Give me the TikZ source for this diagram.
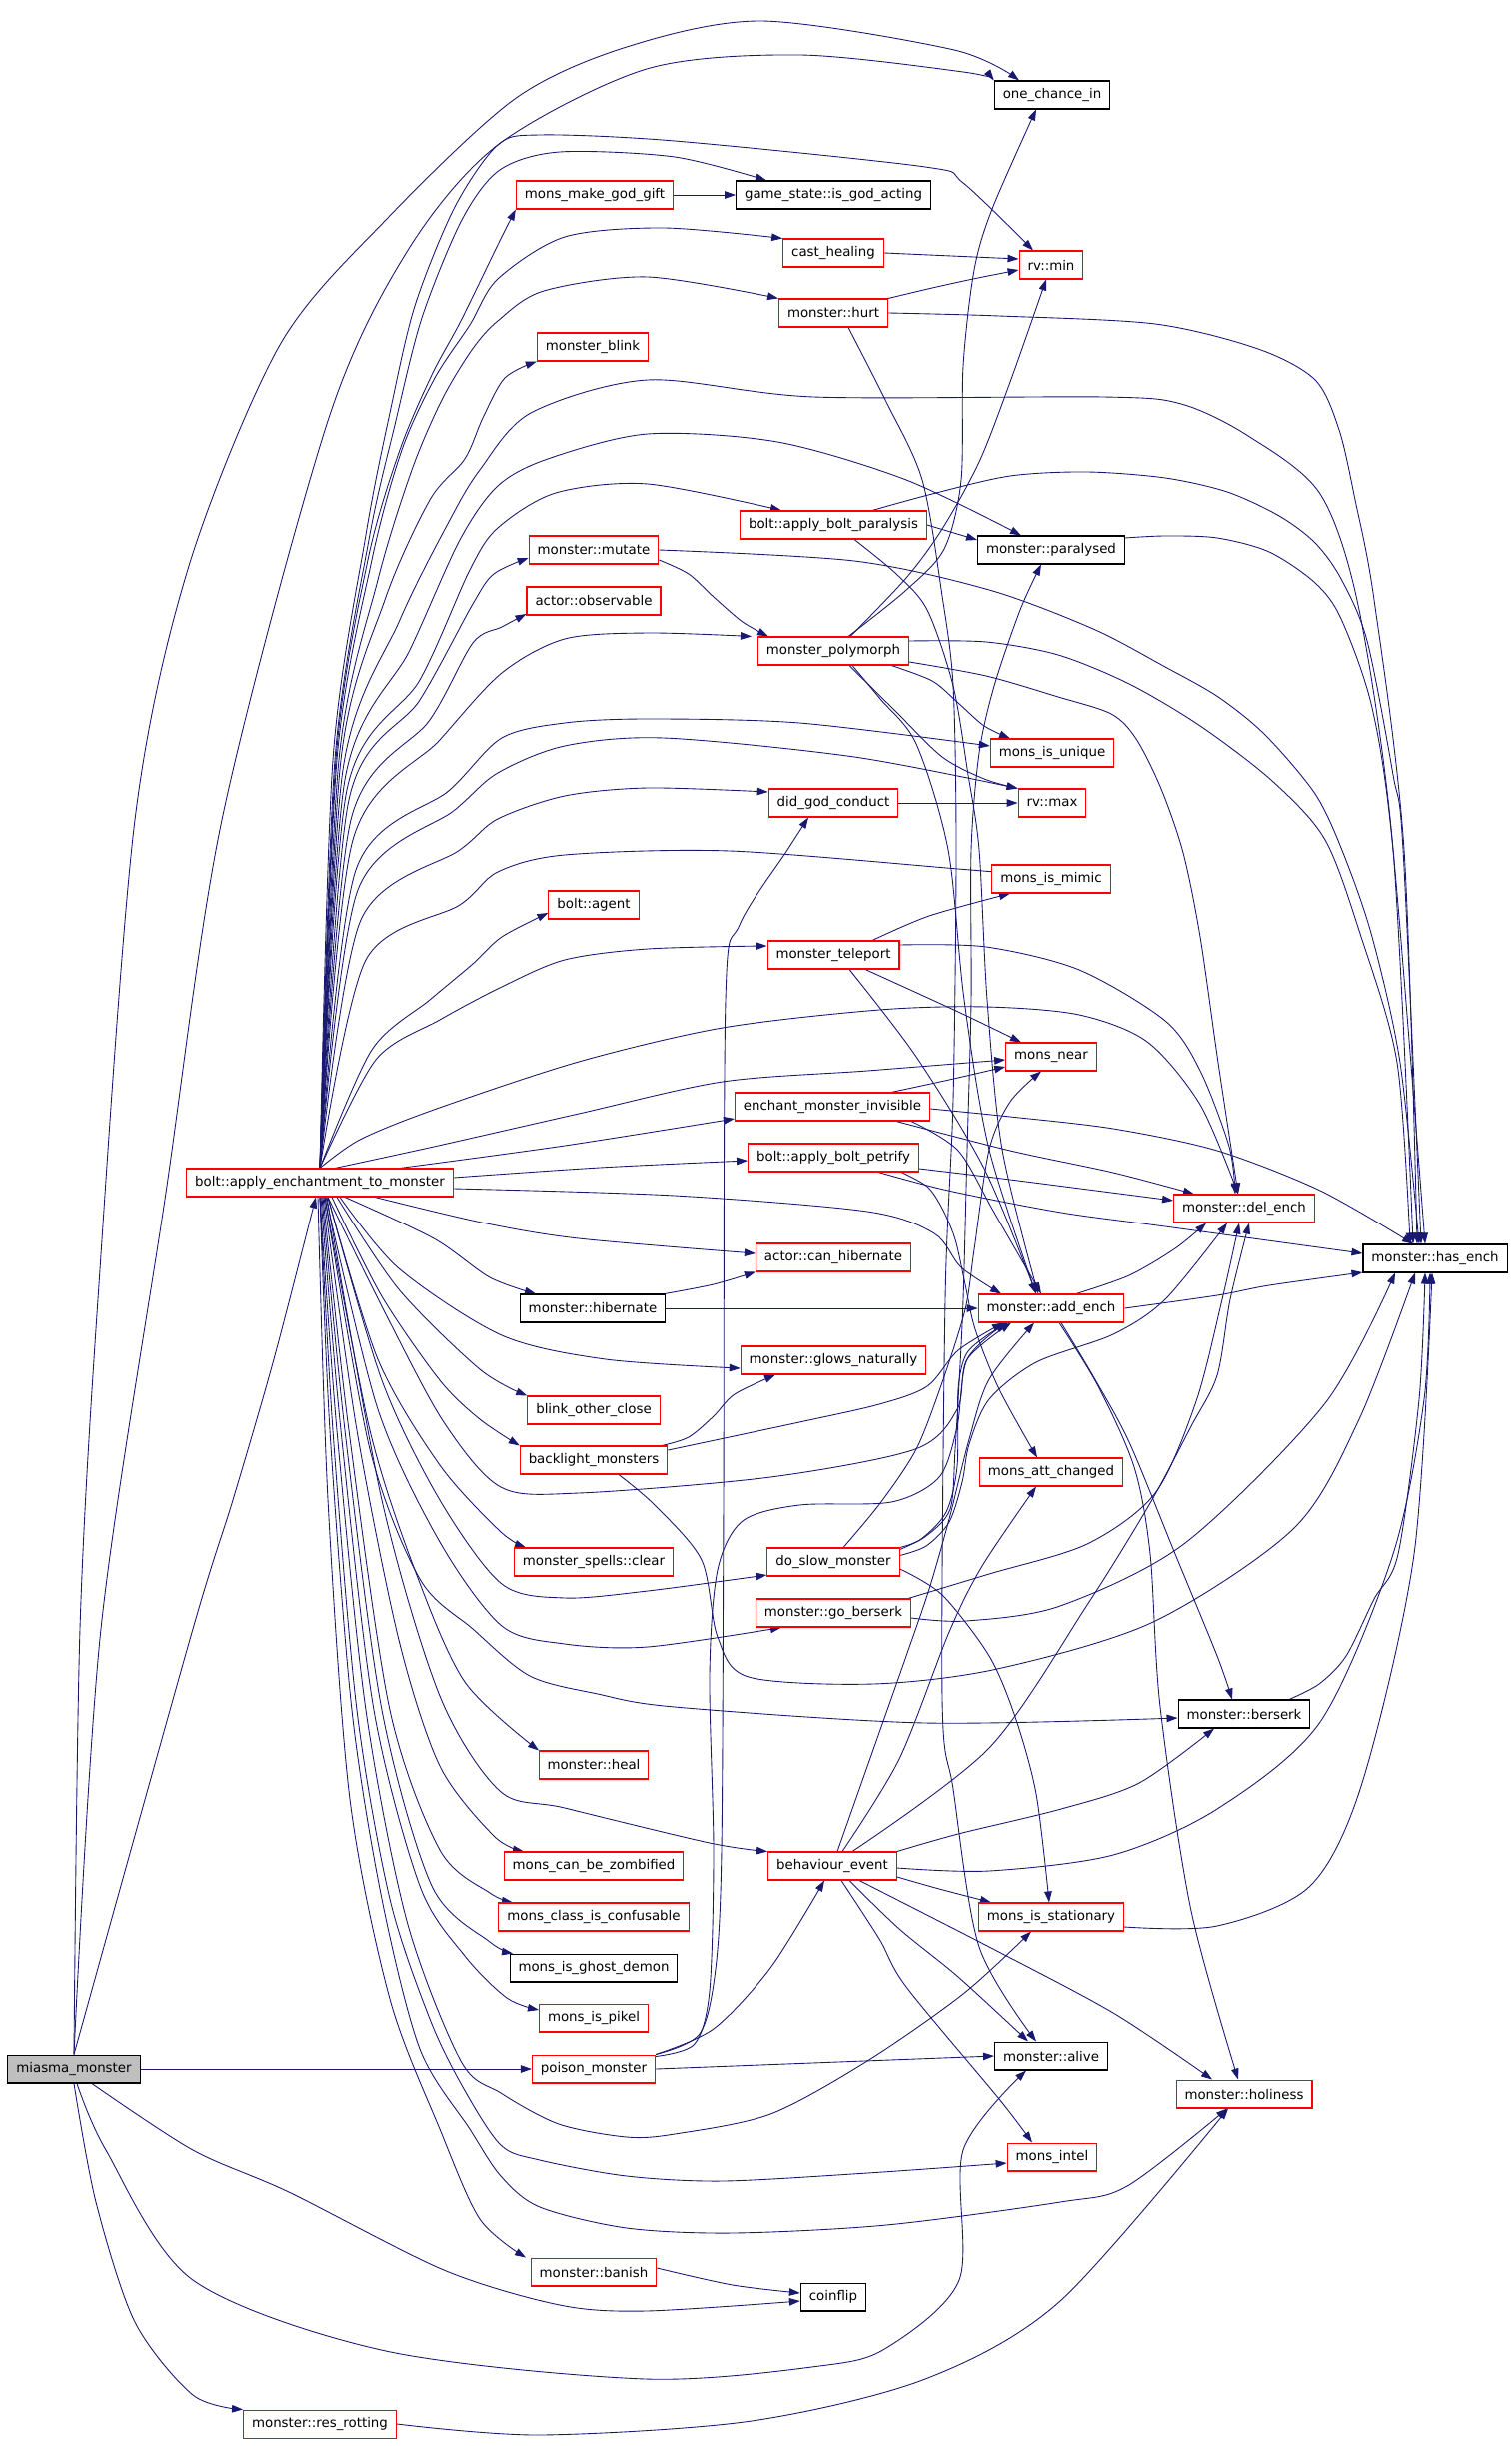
\documentclass[tikz,border=0pt]{standalone}
\usepackage{fontspec}
\setmainfont{DejaVu Sans}
\usetikzlibrary{arrows.meta}
\definecolor{edgeblue}{HTML}{191970}
\definecolor{startgray}{HTML}{BFBFBF}
\pgfdeclarelayer{background}
\pgfsetlayers{background,main}
\begin{document}
\begin{tikzpicture}[x=0.02cm, y=-0.02cm]
\tikzstyle{block} = [rectangle, draw=black, fill=white, line width=0.6pt, minimum height=0.56cm, inner xsep=0.17cm, inner ysep=0pt, font=\fontsize{7.6}{9}\selectfont]
\tikzstyle{redBlock} = [block, draw=red]
\tikzstyle{startBlock} = [block, fill=startgray]
\tikzstyle{callEdge} = [draw=edgeblue, line width=0.5pt, -{Triangle[length=0.22cm,width=0.15cm]}]
\useasboundingbox (0,0) rectangle (1512,2447);
\node (oneChance) at (1053,95) [block] {one\_chance\_in};
\node (makeGodGift) at (595,195) [redBlock] {mons\_make\_god\_gift};
\node (godActing) at (834,195) [block] {game\_state::is\_god\_acting};
\node (castHealing) at (834,253) [redBlock] {cast\_healing};
\node (rvMin) at (1052,265) [redBlock] {rv::min};
\node (hurt) at (834,313) [redBlock] {monster::hurt};
\node (blink) at (593,347) [redBlock] {monster\_blink};
\node (boltParalysis) at (834,525) [redBlock] {bolt::apply\_bolt\_paralysis};
\node (paralysed) at (1052,550) [block] {monster::paralysed};
\node (mutate) at (594,550) [redBlock] {monster::mutate};
\node (observable) at (594,601) [redBlock] {actor::observable};
\node (polymorph) at (834,651) [redBlock] {monster\_polymorph};
\node (isUnique) at (1053,753) [redBlock] {mons\_is\_unique};
\node (rvMax) at (1053,803) [redBlock] {rv::max};
\node (godConduct) at (834,803) [redBlock] {did\_god\_conduct};
\node (isMimic) at (1052,879) [redBlock] {mons\_is\_mimic};
\node (agent) at (594,905) [redBlock] {bolt::agent};
\node (teleport) at (834,955) [redBlock] {monster\_teleport};
\node (monsNear) at (1052,1057) [redBlock] {mons\_near};
\node (invisible) at (833,1107) [redBlock] {enchant\_monster\_invisible};
\node (boltPetrify) at (834,1158) [redBlock] {bolt::apply\_bolt\_petrify};
\node (applyEnch) at (320,1183) [redBlock] {bolt::apply\_enchantment\_to\_monster};
\node (delEnch) at (1245,1209) [redBlock] {monster::del\_ench};
\node (hasEnch) at (1436,1259) [block] {monster::has\_ench};
\node (canHibernate) at (834,1258) [redBlock] {actor::can\_hibernate};
\node (hibernate) at (593,1309) [block] {monster::hibernate};
\node (addEnch) at (1052,1309) [redBlock] {monster::add\_ench};
\node (glows) at (834,1361) [redBlock] {monster::glows\_naturally};
\node (blinkClose) at (594,1411) [redBlock] {blink\_other\_close};
\node (backlight) at (594,1461) [redBlock] {backlight\_monsters};
\node (attChanged) at (1052,1473) [redBlock] {mons\_att\_changed};
\node (spellsClear) at (594,1563) [redBlock] {monster\_spells::clear};
\node (slowMonster) at (834,1563) [redBlock] {do\_slow\_monster};
\node (goBerserk) at (834,1614) [redBlock] {monster::go\_berserk};
\node (berserk) at (1245,1715) [block] {monster::berserk};
\node (heal) at (594,1766) [redBlock] {monster::heal};
\node (behaviour) at (833,1867) [redBlock] {behaviour\_event};
\node (zombified) at (594,1867) [redBlock] {mons\_can\_be\_zombified};
\node (confusable) at (594,1918) [redBlock] {mons\_class\_is\_confusable};
\node (stationary) at (1052,1918) [redBlock] {mons\_is\_stationary};
\node (ghostDemon) at (594,1969) [block] {mons\_is\_ghost\_demon};
\node (pikel) at (594,2019) [redBlock] {mons\_is\_pikel};
\node (poison) at (594,2070) [redBlock] {poison\_monster};
\node (alive) at (1052,2057) [block] {monster::alive};
\node (holiness) at (1245,2095) [redBlock] {monster::holiness};
\node (intel) at (1053,2158) [redBlock] {mons\_intel};
\node (banish) at (594,2273) [redBlock] {monster::banish};
\node (coinflip) at (834,2298) [block] {coinflip};
\node (resRotting) at (320,2425) [redBlock] {monster::res\_rotting};
\node (miasma) at (74,2070) [startBlock] {miasma\_monster};
\begin{pgfonlayer}{background}
\fill[white] (0,0) rectangle (1512,2447);
\draw[callEdge] plot[smooth] coordinates {(miasma.north) (80,1630) (98,1300) (135,820) (189,566) (280,345) (386,220) (515,99) (627,47) (762,21) (955,50) ([xshift=-0.66cm]oneChance.north)};
\draw[callEdge] plot[smooth] coordinates {(miasma.north) (101,1630) (165,1200) (222,820) (328,421) (407,252) (498,145) (647,69) (800,55) (964,72) (oneChance.north west)};
\draw[callEdge] plot[smooth] coordinates {(miasma.north) (193,1630) (233,1501) (274,1360) ([xshift=-0.08cm]applyEnch.south)};
\draw[callEdge] (miasma.east) -- (poison.west);
\draw[callEdge] plot[smooth] coordinates {([xshift=0.36cm]miasma.south) (193,2151) (289,2193) (444,2271) (560,2306) (646,2312) ([yshift=-0.08cm]coinflip.west)};
\draw[callEdge] plot[smooth] coordinates {([xshift=0.06cm]miasma.south) (106,2151) (193,2281) (386,2352) (646,2380) (820,2367) (887,2349) (960,2281) (964,2151) ([xshift=-0.5cm]alive.south)};
\draw[callEdge] plot[smooth] coordinates {(miasma.south) (96,2203) (135,2323) (193,2396) (resRotting.north west)};
\draw[callEdge] plot[smooth] coordinates {(resRotting.east) (540,2436) (752,2422) (926,2380) (1061,2302) ([xshift=-0.32cm]holiness.south)};
\draw[callEdge] (poison.east) -- (alive.west);
\draw[callEdge] plot[smooth] coordinates {(poison.north east) (714,2030) (771,1969) ([xshift=-0.16cm]behaviour.south)};
\draw[callEdge] plot[smooth] coordinates {(poison.north east) (700,2035) (716,1970) (722,1850) (724,1500) (726,1000) (740,925) (788,850) ([xshift=-0.5cm]godConduct.south)};
\draw[callEdge] plot[smooth] coordinates {([yshift=-0.04cm]poison.north east) (695,2045) (710,1992) (714,1852) (710,1676) (718,1571) (743,1522) (800,1506) (892,1503) (940,1478) (958,1427) (968,1360) ([xshift=-0.9cm]addEnch.south)};
\draw[callEdge] plot[smooth] coordinates {(applyEnch.north) (333,760) (366,535) (390,413) (415,306) (455,207) (498,145) (540,135) (675,141) (926,167) (964,183) ([xshift=-0.36cm]rvMin.north)};
\draw[callEdge] plot[smooth] coordinates {(applyEnch.north) (335,760) (369,540) (395,425) (422,318) (462,220) (500,170) (560,152) (675,157) ([xshift=-1.34cm]godActing.north)};
\draw[callEdge] plot[smooth] coordinates {(applyEnch.north) (337,760) (372,560) (402,450) (435,378) (470,325) (498,279) (565,237) (664,228) (castHealing.north west)};
\draw[callEdge] plot[smooth] coordinates {(applyEnch.north) (339,760) (378,580) (412,470) (442,400) (472,350) (498,321) (544,291) (648,277) (hurt.north west)};
\draw[callEdge] plot[smooth] coordinates {(applyEnch.north) (336,760) (368,560) (400,450) (432,375) (461,321) (498,245) (makeGodGift.south west)};
\draw[callEdge] plot[smooth] coordinates {(applyEnch.north) (341,760) (385,600) (430,500) (465,459) (483,418) (505,378) (blink.south west)};
\draw[callEdge] plot[smooth] coordinates {(applyEnch.north) (343,770) (400,620) (450,520) (480,470) (531,413) (648,380) (814,397) (1104,397) (1182,404) (1249,436) (1321,494) (1360,610) (1394,850) ([xshift=-0.44cm]hasEnch.north)};
\draw[callEdge] plot[smooth] coordinates {(applyEnch.north) (345,780) (410,650) (460,540) (498,486) (548,459) (648,434) (778,442) (907,480) ([xshift=-0.6cm]paralysed.north)};
\draw[callEdge] plot[smooth] coordinates {(applyEnch.north) (347,790) (420,680) (470,570) (498,528) (556,493) (648,484) ([xshift=-1.04cm]boltParalysis.north)};
\draw[callEdge] plot[smooth] coordinates {(applyEnch.north) (349,800) (420,700) (473,604) (494,574) ([yshift=-0.16cm]mutate.west)};
\draw[callEdge] plot[smooth] coordinates {(applyEnch.north) (351,820) (430,720) (473,643) (502,627) ([yshift=-0.26cm]observable.west)};
\draw[callEdge] plot[smooth] coordinates {(applyEnch.north) (353,840) (440,740) (502,673) (565,639) (648,633) ([xshift=-1.64cm]polymorph.north)};
\draw[callEdge] plot[smooth] coordinates {(applyEnch.north) (356,870) (450,790) (502,738) (565,723) (648,719) (800,723) ([yshift=0.14cm]isUnique.west)};
\draw[callEdge] plot[smooth] coordinates {(applyEnch.north) (358,890) (455,810) (498,773) (565,746) (664,738) (855,757) (rvMax.north west)};
\draw[callEdge] plot[smooth] coordinates {(applyEnch.north) (361,920) (460,850) (498,819) (565,796) (648,788) ([yshift=0.22cm]godConduct.west)};
\draw[callEdge] plot[smooth] coordinates {(applyEnch.north) (366,960) (460,905) (498,872) (565,855) (730,851) (959,869) ([yshift=0.14cm]isMimic.west)};
\draw[callEdge] plot[smooth] coordinates {(applyEnch.north) (372,1050) (430,1000) (473,964) (502,937) ([yshift=-0.16cm]agent.west)};
\draw[callEdge] plot[smooth] coordinates {(applyEnch.north) (376,1060) (440,1020) (502,987) (565,960) (648,949) ([yshift=0.18cm]teleport.west)};
\draw[callEdge] plot[smooth] coordinates {(applyEnch.north) (360,1140) (434,1110) (579,1062) (723,1028) (880,1010) (987,1007) (1080,1015) (1148,1042) (1201,1105) ([xshift=-0.12cm]delEnch.north)};
\draw[callEdge] plot[smooth] coordinates {([xshift=0.3cm]applyEnch.north) (434,1147) (579,1114) (723,1082) (868,1071) ([yshift=-0.06cm]monsNear.west)};
\draw[callEdge] plot[smooth] coordinates {([xshift=1.6cm]applyEnch.north) (565,1146) ([yshift=-0.24cm]invisible.west)};
\draw[callEdge] plot[smooth] coordinates {([yshift=0.1cm]applyEnch.east) (600,1168) ([yshift=-0.06cm]boltPetrify.west)};
\draw[callEdge] plot[smooth] coordinates {([yshift=-0.12cm]applyEnch.east) (675,1196) (868,1212) (935,1234) (962,1268) ([xshift=-1.0cm]addEnch.north)};
\draw[callEdge] plot[smooth] coordinates {([xshift=1.1cm]applyEnch.south) (482,1223) (579,1239) ([yshift=0.08cm]canHibernate.west)};
\draw[callEdge] plot[smooth] coordinates {([xshift=0.5cm]applyEnch.south) (434,1239) (490,1278) ([xshift=-1.14cm]hibernate.north)};
\draw[callEdge] plot[smooth] coordinates {([xshift=0.4cm]applyEnch.south) (399,1269) (502,1336) (606,1360) ([yshift=-0.16cm]glows.west)};
\draw[callEdge] plot[smooth] coordinates {([xshift=0.34cm]applyEnch.south) (399,1290) (480,1370) (blinkClose.north west)};
\draw[callEdge] plot[smooth] coordinates {([xshift=0.24cm]applyEnch.south) (382,1297) (440,1381) (480,1420) (backlight.north west)};
\draw[callEdge] plot[smooth] coordinates {([xshift=0.16cm]applyEnch.south) (386,1315) (444,1423) (501,1488) (579,1494) (771,1478) (916,1450) (958,1410) (968,1360) ([xshift=-0.8cm]addEnch.south)};
\draw[callEdge] plot[smooth] coordinates {([xshift=0.16cm]applyEnch.south) (378,1360) (440,1466) (500,1532) ([xshift=-1.36cm]spellsClear.north)};
\draw[callEdge] plot[smooth] coordinates {([xshift=0.16cm]applyEnch.south) (382,1381) (440,1501) (502,1585) (565,1599) (648,1592) ([yshift=-0.26cm]slowMonster.west)};
\draw[callEdge] plot[smooth] coordinates {([xshift=0.12cm]applyEnch.south) (378,1410) (440,1543) (502,1627) (565,1645) (648,1648) ([xshift=-1.04cm]goBerserk.south)};
\draw[callEdge] plot[smooth] coordinates {([xshift=0.1cm]applyEnch.south) (370,1450) (420,1580) (473,1630) (530,1677) (598,1695) (675,1708) (926,1724) ([yshift=-0.08cm]berserk.west)};
\draw[callEdge] plot[smooth] coordinates {([xshift=0.1cm]applyEnch.south) (370,1431) (415,1571) (465,1683) ([xshift=-1.1cm]heal.north)};
\draw[callEdge] plot[smooth] coordinates {([xshift=0.14cm]applyEnch.south) (382,1501) (440,1697) (500,1792) (565,1809) (710,1844) (behaviour.north west)};
\draw[callEdge] plot[smooth] coordinates {([xshift=0.08cm]applyEnch.south) (357,1431) (399,1641) (440,1767) (494,1837) ([xshift=-1.4cm]zombified.north)};
\draw[callEdge] plot[smooth] coordinates {([xshift=0.06cm]applyEnch.south) (349,1431) (390,1711) (440,1851) (490,1894) ([xshift=-1.62cm]confusable.north)};
\draw[callEdge] plot[smooth] coordinates {([xshift=0.04cm]applyEnch.south) (345,1431) (382,1711) (432,1887) (490,1943) ([xshift=-1.62cm]ghostDemon.north)};
\draw[callEdge] plot[smooth] coordinates {([xshift=0.02cm]applyEnch.south) (341,1431) (374,1711) (420,1887) (465,1957) (507,1999) ([yshift=0.16cm]pikel.west)};
\draw[callEdge] plot[smooth] coordinates {(applyEnch.south) (337,1431) (366,1711) (407,1922) (461,2062) (501,2094) (559,2125) (627,2138) (675,2135) (771,2115) (868,2062) (964,1995) ([xshift=-0.4cm]stationary.south)};
\draw[callEdge] plot[smooth] coordinates {(applyEnch.south) (333,1431) (357,1711) (390,1900) (430,2020) (463,2088) (501,2146) (540,2161) (627,2177) (723,2182) (868,2174) ([yshift=-0.12cm]intel.west)};
\draw[callEdge] plot[smooth] coordinates {(applyEnch.south) (330,1431) (352,1711) (382,1900) (420,2050) (470,2130) (501,2177) (540,2208) (627,2229) (733,2234) (887,2226) (1061,2203) (1128,2187) ([xshift=-0.34cm]holiness.south)};
\draw[callEdge] plot[smooth] coordinates {([xshift=-0.04cm]applyEnch.south) (328,1500) (350,1800) (390,2000) (440,2130) (480,2220) ([xshift=-1.36cm]banish.north)};
\draw[callEdge] (makeGodGift.east) -- (godActing.west);
\draw[callEdge] (castHealing.east) -- ([yshift=0.12cm]rvMin.west);
\draw[callEdge] plot[smooth] coordinates {(hurt.north east) (933,288) (974,279) ([yshift=-0.1cm]rvMin.west)};
\draw[callEdge] plot[smooth] coordinates {(hurt.east) (1000,316) (1156,324) (1259,349) (1316,380) (1340,430) (1356,500) (1375,600) (1405,850) ([xshift=-0.36cm]hasEnch.north)};
\draw[callEdge] plot[smooth] coordinates {([xshift=0.3cm]hurt.south) (886,400) (923,480) (943,596) (954,686) (957,850) (954,1100) (946,1300) (943,1700) (954,1790) (980,1948) ([xshift=-0.3cm]alive.north)};
\draw[callEdge] (boltParalysis.east) -- ([yshift=0.2cm]paralysed.west);
\draw[callEdge] plot[smooth] coordinates {([xshift=0.78cm]boltParalysis.north) (933,494) (1011,476) (1088,472) (1166,478) (1228,492) (1280,516) (1316,543) (1342,579) (1368,641) (1394,775) (1404,850) ([xshift=-0.28cm]hasEnch.north)};
\draw[callEdge] plot[smooth] coordinates {([xshift=0.42cm]boltParalysis.south) (897,574) (928,610) (954,686) (969,775) (980,850) (988,1000) (1003,1150) ([xshift=-0.26cm]addEnch.north)};
\draw[callEdge] plot[smooth] coordinates {([yshift=0.24cm]paralysed.east) (1166,536) (1218,538) (1270,552) (1316,583) (1342,619) (1373,708) (1394,850) ([xshift=-0.2cm]hasEnch.north)};
\draw[callEdge] plot[smooth] coordinates {([yshift=-0.2cm]mutate.east) (689,574) (714,597) (743,622) ([xshift=-1.3cm]polymorph.north)};
\draw[callEdge] plot[smooth] coordinates {(mutate.east) (855,561) (990,590) (1094,629) (1166,667) (1219,697) (1266,735) (1316,794) (1344,853) (1373,937) (1401,1063) ([xshift=-0.32cm]hasEnch.north)};
\draw[callEdge] plot[smooth] coordinates {([xshift=0.3cm]polymorph.north) (906,591) (945,549) (962,480) (964,366) (975,270) (993,209) ([xshift=-0.32cm]oneChance.south)};
\draw[callEdge] plot[smooth] coordinates {([xshift=0.34cm]polymorph.north) (907,578) (943,529) (980,462) (1011,382) ([xshift=-0.1cm]rvMin.south)};
\draw[callEdge] plot[smooth] coordinates {([xshift=1.16cm]polymorph.south) (933,681) (959,703) (985,726) ([xshift=-0.84cm]isUnique.north)};
\draw[callEdge] plot[smooth] coordinates {([xshift=0.32cm]polymorph.south) (897,712) (943,757) (985,779) (rvMax.north west)};
\draw[callEdge] plot[smooth] coordinates {([yshift=-0.22cm]polymorph.east) (987,676) (1059,697) (1112,714) (1137,739) (1162,789) (1184,853) (1201,937) (1219,1063) ([xshift=-0.12cm]delEnch.north)};
\draw[callEdge] plot[smooth] coordinates {([yshift=0.2cm]polymorph.east) (987,642) (1059,655) (1130,684) (1201,726) (1273,781) (1326,840) (1362,937) (1398,1063) ([xshift=-0.5cm]hasEnch.north)};
\draw[callEdge] plot[smooth] coordinates {([xshift=0.38cm]polymorph.south) (881,699) (917,744) (949,850) (965,1000) (990,1150) ([xshift=-0.3cm]addEnch.north)};
\draw[callEdge] (godConduct.east) -- (rvMax.west);
\draw[callEdge] plot[smooth] coordinates {([xshift=0.78cm]teleport.north) (930,916) ([xshift=-0.82cm]isMimic.south)};
\draw[callEdge] plot[smooth] coordinates {([yshift=0.2cm]teleport.east) (987,947) (1080,970) (1166,1021) (1201,1071) (1230,1147) ([xshift=-0.18cm]delEnch.north)};
\draw[callEdge] plot[smooth] coordinates {([xshift=0.64cm]teleport.south) (959,1012) ([xshift=-0.6cm]monsNear.north)};
\draw[callEdge] plot[smooth] coordinates {([xshift=0.32cm]teleport.south) (917,1057) (985,1169) ([xshift=-0.3cm]addEnch.north)};
\draw[callEdge] plot[smooth] coordinates {([xshift=1.18cm]invisible.north) (950,1080) ([yshift=-0.2cm]monsNear.west)};
\draw[callEdge] plot[smooth] coordinates {([yshift=-0.04cm]invisible.east) (1011,1117) (1114,1129) (1218,1151) (1321,1191) ([xshift=-0.44cm]hasEnch.north)};
\draw[callEdge] plot[smooth] coordinates {([xshift=1.28cm]invisible.south) (1011,1151) (1114,1173) ([xshift=-1.0cm]delEnch.north)};
\draw[callEdge] plot[smooth] coordinates {([xshift=1.58cm]invisible.south) (959,1151) (995,1213) ([xshift=-0.2cm]addEnch.north)};
\draw[callEdge] plot[smooth] coordinates {([yshift=-0.22cm]boltPetrify.east) (1011,1180) ([yshift=0.16cm]delEnch.west)};
\draw[callEdge] plot[smooth] coordinates {([xshift=0.9cm]boltPetrify.south) (949,1191) (1062,1213) (1166,1227) ([yshift=0.1cm]hasEnch.west)};
\draw[callEdge] plot[smooth] coordinates {([xshift=1.36cm]boltPetrify.south) (928,1187) (943,1209) (956,1240) (966,1285) (976,1330) (1000,1390) ([xshift=-0.28cm]attChanged.north)};
\draw[callEdge] plot[smooth] coordinates {([xshift=0.5cm]addEnch.north) (1130,1276) (1176,1249) ([xshift=-0.76cm]delEnch.south)};
\draw[callEdge] plot[smooth] coordinates {(addEnch.east) (1218,1296) (1270,1286) ([yshift=-0.28cm]hasEnch.west)};
\draw[callEdge] plot[smooth] coordinates {([xshift=0.2cm]addEnch.south) (1094,1377) (1130,1443) (1176,1555) (1218,1657) ([xshift=-0.24cm]berserk.north)};
\draw[callEdge] plot[smooth] coordinates {([xshift=0.16cm]addEnch.south) (1099,1387) (1135,1468) (1151,1555) (1161,1708) (1192,1912) ([xshift=-0.12cm]holiness.north)};
\draw[callEdge] plot[smooth] coordinates {([xshift=1.44cm]hibernate.north) (714,1285) (canHibernate.south west)};
\draw[callEdge] (hibernate.east) -- (addEnch.west);
\draw[callEdge] plot[smooth] coordinates {([xshift=1.36cm]backlight.north) (689,1438) (714,1417) (735,1395) ([xshift=-1.16cm]glows.south)};
\draw[callEdge] plot[smooth] coordinates {([yshift=0.2cm]backlight.east) (800,1423) (880,1405) (928,1387) (959,1351) ([xshift=-0.96cm]addEnch.south)};
\draw[callEdge] plot[smooth] coordinates {([xshift=0.5cm]backlight.south) (655,1506) (702,1561) (718,1638) (749,1678) (874,1685) (998,1670) (1154,1623) (1295,1529) (1360,1420) ([xshift=-0.4cm]hasEnch.south)};
\draw[callEdge] plot[smooth] coordinates {(slowMonster.north east) (922,1540) (947,1513) (958,1467) (959,1390) (967,1355) (988,1336) ([xshift=-0.86cm]addEnch.south)};
\draw[callEdge] plot[smooth] coordinates {([yshift=-0.04cm]slowMonster.north east) (927,1537) (951,1510) (956,1450) (960,1383) (964,1300) (968,1150) (972,1000) (972,850) (980,753) (995,686) (1021,610) ([xshift=-0.2cm]paralysed.south)};
\draw[callEdge] plot[smooth] coordinates {([yshift=-0.16cm]slowMonster.north east) (927,1547) (950,1523) (963,1483) (970,1445) (990,1400) (1037,1363) (1114,1335) (1166,1300) ([xshift=-0.34cm]delEnch.south)};
\draw[callEdge] plot[smooth] coordinates {([yshift=-0.14cm]slowMonster.east) (943,1596) (990,1657) (1016,1718) (1037,1795) ([xshift=-0.04cm]stationary.north)};
\draw[callEdge] plot[smooth] coordinates {([xshift=0.2cm]slowMonster.north) (881,1504) (917,1450) (943,1383) (966,1310) (975,1250) (990,1150) (1011,1102) ([xshift=-0.2cm]monsNear.south)};
\draw[callEdge] plot[smooth] coordinates {([xshift=1.5cm]goBerserk.north) (990,1575) (1088,1545) (1156,1494) (1197,1402) (1223,1300) ([xshift=-0.1cm]delEnch.south)};
\draw[callEdge] plot[smooth] coordinates {([yshift=-0.1cm]goBerserk.east) (967,1622) (1061,1607) (1186,1544) (1326,1404) ([xshift=-0.8cm]hasEnch.south)};
\draw[callEdge] plot[smooth] coordinates {([xshift=0.9cm]berserk.north) (1320,1685) (1347,1657) (1375,1600) (1399,1555) (1420,1400) ([xshift=-0.2cm]hasEnch.south)};
\draw[callEdge] plot[smooth] coordinates {([xshift=0.1cm]behaviour.north) (871,1759) (907,1657) (930,1590) (950,1520) (970,1440) (990,1380) ([xshift=-0.34cm]addEnch.south)};
\draw[callEdge] plot[smooth] coordinates {([xshift=0.2cm]behaviour.north) (900,1760) (950,1633) (983,1567) ([xshift=-0.3cm]attChanged.south)};
\draw[callEdge] plot[smooth] coordinates {([xshift=0.4cm]behaviour.north) (990,1749) (1088,1606) (1151,1504) (1192,1427) (1218,1376) (1231,1300) ([xshift=0.1cm]delEnch.south)};
\draw[callEdge] plot[smooth] coordinates {([yshift=-0.04cm]behaviour.east) (990,1872) (1114,1856) (1218,1810) (1321,1723) (1394,1555) (1425,1400) ([xshift=-0.1cm]hasEnch.south)};
\draw[callEdge] plot[smooth] coordinates {(behaviour.north east) (959,1835) (1062,1810) (1140,1784) ([xshift=-0.6cm]berserk.south)};
\draw[callEdge] plot[smooth] coordinates {([yshift=-0.22cm]behaviour.east) (940,1890) ([xshift=-1.2cm]stationary.north)};
\draw[callEdge] plot[smooth] coordinates {([xshift=0.34cm]behaviour.south) (900,1930) (959,1978) ([xshift=-0.46cm]alive.north)};
\draw[callEdge] plot[smooth] coordinates {([xshift=0.54cm]behaviour.south) (990,1948) (1114,2014) ([xshift=-0.64cm]holiness.north)};
\draw[callEdge] plot[smooth] coordinates {([xshift=0.18cm]behaviour.south) (880,1940) (907,1988) (1000,2100) ([xshift=-0.4cm]intel.north)};
\draw[callEdge] plot[smooth] coordinates {([yshift=-0.2cm]stationary.east) (1218,1927) (1311,1887) (1363,1784) (1415,1555) ([xshift=-0.06cm]hasEnch.south)};
\draw[callEdge] plot[smooth] coordinates {([yshift=0.08cm]banish.east) (733,2286) ([yshift=0.08cm]coinflip.west)};
\end{pgfonlayer}
\end{tikzpicture}
\end{document}
